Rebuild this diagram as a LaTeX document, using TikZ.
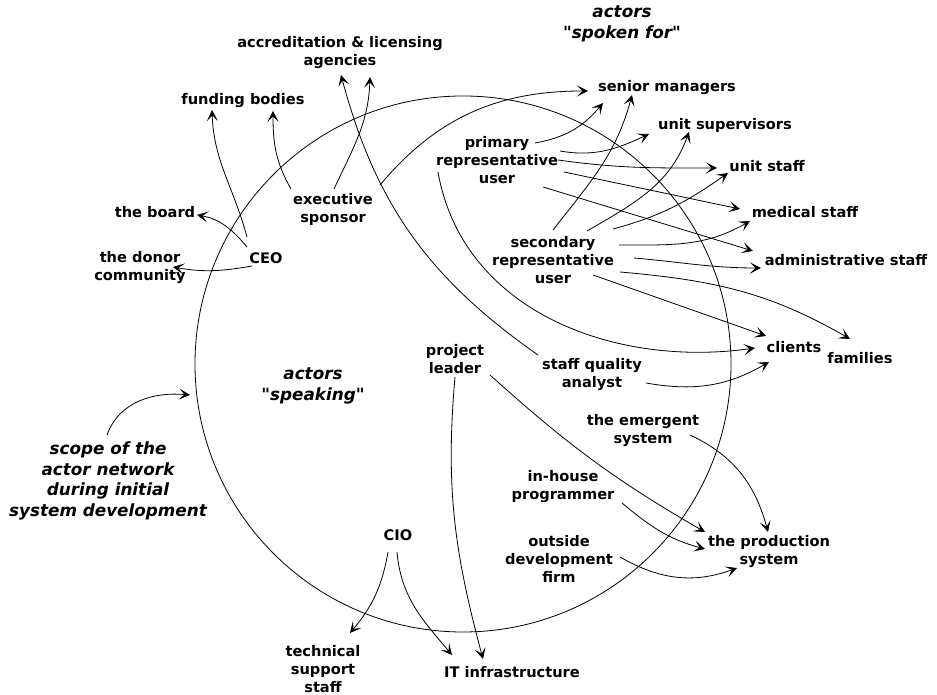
\documentclass[tikz,border=0pt]{standalone}
\usepackage{fontspec}
\setmainfont{DejaVu Sans}[Ligatures=TeXOff]
\usetikzlibrary{arrows.meta,calc}
\begin{document}
\begin{tikzpicture}[x=1pt,y=1pt,
  lbl/.style={font=\bfseries\fontsize{14.6}{18}\selectfont, align=center, inner sep=0pt},
  ital/.style={font=\bfseries\itshape\fontsize{16.8}{20.8}\selectfont, align=center, inner sep=0pt},
  con/.style={line width=0.8pt, -{Stealth[length=11pt,width=11pt,inset=5.5pt]}},
  ring/.style={line width=0.8pt}]
\useasboundingbox (0,0) rectangle (937,695);
\fill[white] (0,0) rectangle (937,695);
% scope circle
\coordinate (cc) at (463,331);
\draw[ring] (cc) circle (268);
\coordinate (ringpt) at (190,300);
% italic labels
\node[ital] (spokenfor) at (622,671) {actors\\"spoken for"};
\node[ital] (speaking) at (313,309) {actors\\"speaking"};
\node[ital] (scope) at (108,214) {scope of the\\actor network\\during initial\\system development};
% actors
\node[lbl] (acc) at (340,642) {accreditation \& licensing\\agencies};
\node[lbl] (fund) at (243,594) {funding bodies};
\node[lbl] (board) at (155,483) {the board};
\node[lbl] (donor) at (140,427) {the donor\\community};
\node[lbl] (ceo) at (266,437) {CEO};
\node[lbl] (exec) at (333,486) {executive\\sponsor};
\node[lbl] (prim) at (497,535) {primary\\representative\\user};
\node[lbl] (sec) at (553,435) {secondary\\representative\\user};
\node[lbl] (senior) at (667,607) {senior managers};
\node[lbl] (unitsup) at (725,570) {unit supervisors};
\node[lbl] (unitstaff) at (767,529) {unit staff};
\node[lbl] (med) at (805,483) {medical staff};
\node[lbl] (admin) at (846,435) {administrative staff};
\node[lbl] (clients) at (794,348) {clients};
\node[lbl] (families) at (860,337) {families};
\node[lbl] (proj) at (455,336) {project\\leader};
\node[lbl] (sqa) at (592,320) {staff quality\\analyst};
\node[lbl] (emerg) at (643,264) {the emergent\\system};
\node[lbl] (inhouse) at (563,208) {in-house\\programmer};
\node[lbl] (outside) at (559,136) {outside\\development\\firm};
\node[lbl] (prod) at (769,143) {the production\\system};
\node[lbl] (it) at (512,23) {IT infrastructure};
\node[lbl] (tech) at (323,26) {technical\\support\\staff};
\node[lbl] (cio) at (398,160) {CIO};
% connectors
\draw[con] ([shift={(-19,21)}]ceo.center) to[out=105,in=-88] ([shift={(-31,-9)}]fund.center);
\draw[con] ([shift={(-19,11)}]ceo.center) to[out=130,in=-10] ([shift={(42,-3)}]board.center);
\draw[con] ([shift={(-14,-8)}]ceo.center) to[out=190,in=-10] ([shift={(33,1)}]donor.center);
\draw[con] ([shift={(-42,20)}]exec.center) to[out=120,in=-90] ([shift={(30,-10)}]fund.center);
\draw[con] ([shift={(1,20)}]exec.center) to[out=65,in=-92] ([shift={(30,-24)}]acc.center);
\draw[con] ([shift={(-54,20)}]sqa.center) to[out=145,in=-75] ([shift={(1,-22)}]acc.center);
\draw[con] ([shift={(47,24)}]exec.center) to[out=50,in=180] ([shift={(-79,-3)}]senior.center);
\draw[con] ([shift={(38,17)}]prim.center) to[out=10,in=-130] ([shift={(-64,-15)}]senior.center);
\draw[con] ([shift={(0,30)}]sec.center) to[out=52,in=-105] ([shift={(-35,-7)}]senior.center);
\draw[con] ([shift={(63,9)}]prim.center) to[out=-10,in=-155] ([shift={(-76,-9)}]unitsup.center);
\draw[con] ([shift={(34,29)}]sec.center) to[out=30,in=-110] ([shift={(-36,-7)}]unitsup.center);
\draw[con] ([shift={(61,0)}]prim.center) to[out=-8,in=180] ([shift={(-50,-2)}]unitstaff.center);
\draw[con] ([shift={(60,31)}]sec.center) to[out=15,in=-145] ([shift={(-39,-7)}]unitstaff.center);
\draw[con] ([shift={(67,-12)}]prim.center) -- ([shift={(-65,3)}]med.center);
\draw[con] ([shift={(66,15)}]sec.center) to[out=0,in=-150] ([shift={(-55,-9)}]med.center);
\draw[con] ([shift={(46,-27)}]prim.center) -- ([shift={(-93,9)}]admin.center);
\draw[con] ([shift={(81,2)}]sec.center) to[out=-5,in=180] ([shift={(-85,-8)}]admin.center);
\draw[con] ([shift={(67,-12)}]sec.center) to[out=-5,in=150] ([shift={(-10,19)}]families.center);
\draw[con] ([shift={(40,-15)}]sec.center) -- ([shift={(-28,11)}]clients.center);
\draw[con] ([shift={(-59,-12)}]prim.center) to[out=-80,in=188] ([shift={(-39,-1)}]clients.center);
\draw[con] ([shift={(54,-8)}]sqa.center) to[out=-10,in=-150] ([shift={(-25,-15)}]clients.center);
\draw[con] ([shift={(35,-16)}]proj.center) to[out=-42,in=150] ([shift={(-64,20)}]prod.center);
\draw[con] ([shift={(0,-18)}]proj.center) to[out=-95,in=105] ([shift={(-29,13)}]it.center);
\draw[con] ([shift={(47,-4)}]emerg.center) to[out=-25,in=105] ([shift={(-1,20)}]prod.center);
\draw[con] ([shift={(59,-16)}]inhouse.center) to[out=-40,in=165] ([shift={(-64,3)}]prod.center);
\draw[con] ([shift={(61,2)}]outside.center) to[out=-30,in=-160] ([shift={(-32,-16)}]prod.center);
\draw[con] ([shift={(-10,-17)}]cio.center) to[out=-100,in=50] ([shift={(27,36)}]tech.center);
\draw[con] ([shift={(-1,-17)}]cio.center) to[out=-85,in=130] ([shift={(-60,17)}]it.center);
\draw[con] ([shift={(-1,46)}]scope.center) to[out=70,in=175] (ringpt);
\end{tikzpicture}
\end{document}
